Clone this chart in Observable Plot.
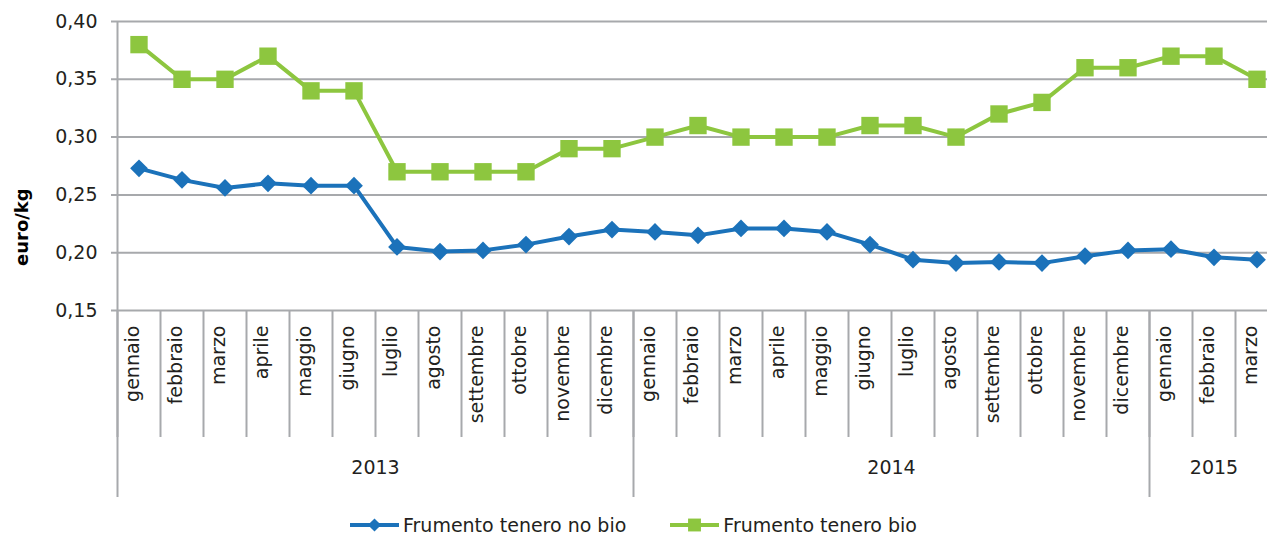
<!DOCTYPE html>
<html><head><meta charset="utf-8">
<script src="https://cdn.jsdelivr.net/npm/d3@7"></script>
<script src="https://cdn.jsdelivr.net/npm/@observablehq/plot@0.6"></script>
<style>
html,body{margin:0;background:#fff;font-family:"DejaVu Sans",sans-serif;overflow:hidden;width:1267px;}
#chart{width:1267px;overflow:hidden}
#chart svg{display:block;max-width:none !important;}
#legend{display:flex;justify-content:center;align-items:center;gap:44px;height:24px;padding-top:3px;font-size:19px;line-height:22px;color:#231f20;}
.item{display:flex;align-items:center;gap:4px}
</style></head><body>
<div id="chart"></div>
<div id="legend"></div>
<script>
const months = ["gennaio","febbraio","marzo","aprile","maggio","giugno","luglio","agosto","settembre","ottobre","novembre","dicembre",
                "gennaio","febbraio","marzo","aprile","maggio","giugno","luglio","agosto","settembre","ottobre","novembre","dicembre",
                "gennaio","febbraio","marzo"];
const monthYears = ["2013","2013","2013","2013","2013","2013","2013","2013","2013","2013","2013","2013",
                    "2014","2014","2014","2014","2014","2014","2014","2014","2014","2014","2014","2014",
                    "2015","2015","2015"];
const noBio = [0.273,0.263,0.256,0.260,0.258,0.258,0.205,0.201,0.202,0.207,0.214,0.220,
               0.218,0.215,0.221,0.221,0.218,0.207,0.194,0.191,0.192,0.191,0.197,0.202,
               0.203,0.196,0.194];
const bio = [0.38,0.35,0.35,0.37,0.34,0.34,0.27,0.27,0.27,0.27,0.29,0.29,
             0.30,0.31,0.30,0.30,0.30,0.31,0.31,0.30,0.32,0.33,0.36,0.36,
             0.37,0.37,0.35];
const seriesNames = ["Frumento tenero no bio","Frumento tenero bio"];
const yTicks = [0.15,0.20,0.25,0.30,0.35,0.40];
const yLabel = "euro/kg";

const blue = "#1b72ba", green = "#8dc63f", grid = "#a7a9ac", ink = "#231f20";
const fontSize = 19;

const rows = months.map((m,i)=>({i, month:m, year:monthYears[i]}));
const noBioData = noBio.map((v,i)=>({i, v}));
const bioData = bio.map((v,i)=>({i, v}));
const spans = d3.rollups(rows, g=>({start:d3.min(g,d=>d.i), end:d3.max(g,d=>d.i)}), d=>d.year)
  .map(([year,s])=>({year, start:s.start, end:s.end, mid:(s.start+s.end)/2}));
const monthBounds = rows.map(d=>d.i-0.5);
const yearBounds = spans.map(s=>s.start-0.5);
const yMin = d3.min(yTicks), yMax = d3.max(yTicks);
const fmt = d=>d.toFixed(2).replace(".", ",");

const chart = Plot.plot({
  width: 1278, height: 510,
  marginLeft: 117, marginRight: 0, marginTop: 21, marginBottom: 200,
  style: {fontFamily: "DejaVu Sans, sans-serif", fontSize: fontSize+"px", color: ink, background: "#fff", maxWidth: "none"},
  x: {type: "linear", domain: [-0.5, months.length-0.5], axis: null},
  y: {domain: [yMin, yMax], axis: null},
  marks: [
    Plot.ruleY(yTicks, {stroke: grid, strokeWidth: 2, insetLeft: -6}),
    Plot.ruleX([-0.5], {stroke: grid, strokeWidth: 2}),
    Plot.ruleX(monthBounds, {x: d=>d, y1: yMin, y2: yMin, insetBottom: -127, stroke: grid, strokeWidth: 2}),
    Plot.ruleX(yearBounds, {x: d=>d, y1: yMin, y2: yMin, insetBottom: -187, stroke: grid, strokeWidth: 2}),
    Plot.text(yTicks, {y: d=>d, text: fmt, frameAnchor: "left", textAnchor: "end", dx: -20, fill: ink, fontSize: fontSize}),
    Plot.text([yLabel], {text: d=>d, frameAnchor: "left", rotate: -90, dx: -95, dy: 100, fontWeight: "bold", fontSize: 18, fill: "#000"}),
    Plot.line(noBioData, {x: "i", y: "v", stroke: blue, strokeWidth: 4, strokeLinejoin: "round"}),
    Plot.dot(noBioData, {x: "i", y: "v", symbol: "diamond2", r: 8, fill: blue, stroke: "none"}),
    Plot.line(bioData, {x: "i", y: "v", stroke: green, strokeWidth: 4, strokeLinejoin: "round"}),
    Plot.dot(bioData, {x: "i", y: "v", symbol: "square", r: 9.8, fill: green, stroke: "none"}),
    Plot.text(rows, {x: "i", text: "month", frameAnchor: "bottom", rotate: -90, textAnchor: "end", dy: 15, fill: ink, fontSize: fontSize}),
    Plot.text(spans, {x: "mid", text: "year", frameAnchor: "bottom", dy: 163, fill: ink, fontSize: fontSize})
  ]
});
document.getElementById("chart").append(chart);

// legend
const legend = d3.select("#legend");
const markers = [
  {name: seriesNames[0], color: blue, sym: d3.symbolDiamond2, size: Math.PI*8*8},
  {name: seriesNames[1], color: green, sym: d3.symbolSquare, size: Math.PI*9.8*9.8}
];
markers.forEach(m=>{
  const it = legend.append("div").attr("class","item");
  const s = it.append("svg").attr("width",49).attr("height",20);
  s.append("line").attr("x1",0).attr("x2",49).attr("y1",10).attr("y2",10).attr("stroke",m.color).attr("stroke-width",4);
  s.append("path").attr("d", d3.symbol(m.sym, m.size*0.55)()).attr("transform","translate(24.5,10)").attr("fill",m.color);
  it.append("span").text(m.name);
});
</script>
</body></html>
